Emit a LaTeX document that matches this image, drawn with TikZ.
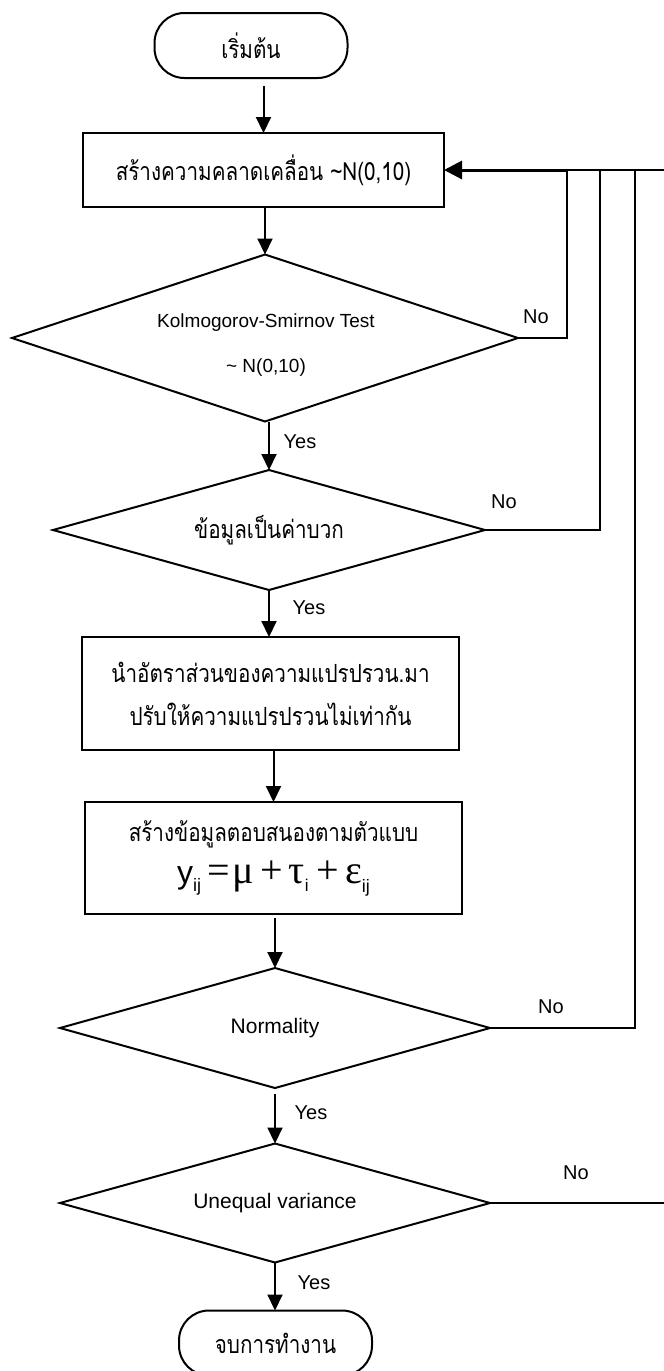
\documentclass[tikz,border=0pt]{standalone}
\usepackage{graphicx}
\usepackage{fontspec}
\setmainfont{Liberation Sans}
\newfontfamily\thaifont[Script=Thai]{Loma}
\newfontfamily\grk{Liberation Serif}
\newcommand\thx[1]{\scalebox{0.826}[1]{\thaifont\fontsize{25}{28}\selectfont #1}}
\usetikzlibrary{shapes.geometric,arrows.meta}
\begin{document}
\begin{tikzpicture}[x=1pt,y=-1pt,
  line/.style={line width=1.6pt},
  arr/.style={line width=2pt, -{Triangle[width=15pt,length=16pt]}},
  bigarr/.style={line width=3pt, -{Triangle[width=18pt,length=18pt]}},
  proc/.style={draw, line width=2pt, rectangle, inner sep=0pt, outer sep=0pt, align=center},
  term/.style={draw, line width=2pt, rectangle, rounded corners=30pt, inner sep=0pt, outer sep=0pt, minimum width=193pt, minimum height=65pt},
  dec/.style={draw, line width=2pt, diamond, aspect=3.5, inner sep=0pt, outer sep=0pt, align=center},
  lab/.style={font=\fontsize{20}{20}\selectfont, inner sep=0pt},
  dtxt/.style={font=\fontsize{21}{21}\selectfont},
]
\useasboundingbox (0,0) rectangle (664,1371);
\node[term] (start) at (251,45.5) {\thx{เริ่มต้น}};
\node[proc, minimum width=361pt, minimum height=74pt] (b1) at (263.5,170) {\thx{สร้างความคลาดเคลื่อน \textasciitilde N(0,10)}};
\node[dec, minimum width=506pt, minimum height=167pt] (d1) at (265,338) {};
\node[font=\fontsize{19}{45}\selectfont, align=center, inner sep=0pt] (d1t) at (266,345) {Kolmogorov-Smirnov Test\\\textasciitilde{} N(0,10)};
\node[dec, minimum width=432pt, minimum height=120pt] (d2) at (269,530) {\thx{ข้อมูลเป็นค่าบวก}};
\node[proc, minimum width=377pt, minimum height=113pt, font=\fontsize{20}{43}\selectfont] (b2) at (270.5,693.5) {\thx{นำอัตราส่วนของความแปรปรวน.มา}\\\thx{ปรับให้ความแปรปรวนไม่เท่ากัน}};
\node[proc, minimum width=377pt, minimum height=112pt, font=\fontsize{20}{24}\selectfont] (b3) at (273.5,858) {\thx{สร้างข้อมูลตอบสนองตามตัวแบบ}\\[12pt]{\fontsize{32}{32}\selectfont y}\raisebox{-8pt}{\fontsize{18}{18}\selectfont ij}\hspace{6pt}{\grk\fontsize{40}{40}\selectfont =\hspace{3pt}μ\hspace{6pt}+\hspace{6pt}τ}\raisebox{-8pt}{\fontsize{17}{17}\selectfont i}\hspace{8pt}{\grk\fontsize{40}{40}\selectfont +\hspace{6pt}ε}\raisebox{-9pt}{\fontsize{18}{18}\selectfont ij}};
\node[dec, dtxt, minimum width=430pt, minimum height=120pt] (d3) at (275,1028) {Normality};
\node[dec, dtxt, minimum width=430pt, minimum height=119pt] (d4) at (275,1203) {Unequal variance};
\node[term] (end) at (275.5,1343) {\thx{จบการทำงาน}};
% main flow
\draw[arr] ([yshift=-8pt]start.south -| b1.north) -- (b1.north);
\draw[arr] (b1.south -| d1.north) -- (d1.north);
\draw[arr] (d1.south -| d2.north) -- (d2.north);
\draw[arr] (d2.south -| d2.north) -- (d2.south |- b2.north);
\draw[arr] (b2.south -| b3.north) -- (b3.north);
\draw[arr] ([yshift=-4pt]b3.south -| d3.north) -- (d3.north);
\draw[arr] ([yshift=-6pt]d3.south -| d4.north) -- (d4.north);
\draw[arr] (d4.south -| d4.north) -- (d4.south |- end.north);
% feedback
\coordinate (j1) at (567,170);
\coordinate (j2) at (600,170);
\coordinate (j3) at (635,170);
\coordinate (rt) at (664,170);
\coordinate (rb) at (664,1202);
\draw[line] (d1.east) -| (j1);
\draw[line] (d2.east) -| (j2);
\draw[line] (d3.east) -| (j3);
\draw[line] (d4.east) -- (d4.east -| rb);
\draw[line] (rt) -- (j1);
\draw[bigarr] (j1) -- (b1.east);
% labels
\node[lab] (no1) at (536,317) {No};
\node[lab] (no2) at (504,502) {No};
\node[lab] (no3) at (551,1007) {No};
\node[lab] (no4) at (576,1173) {No};
\node[lab] (yes1) at (300,442) {Yes};
\node[lab] (yes2) at (309,608) {Yes};
\node[lab] (yes3) at (311,1113) {Yes};
\node[lab] (yes4) at (314,1283) {Yes};
\end{tikzpicture}
\end{document}
